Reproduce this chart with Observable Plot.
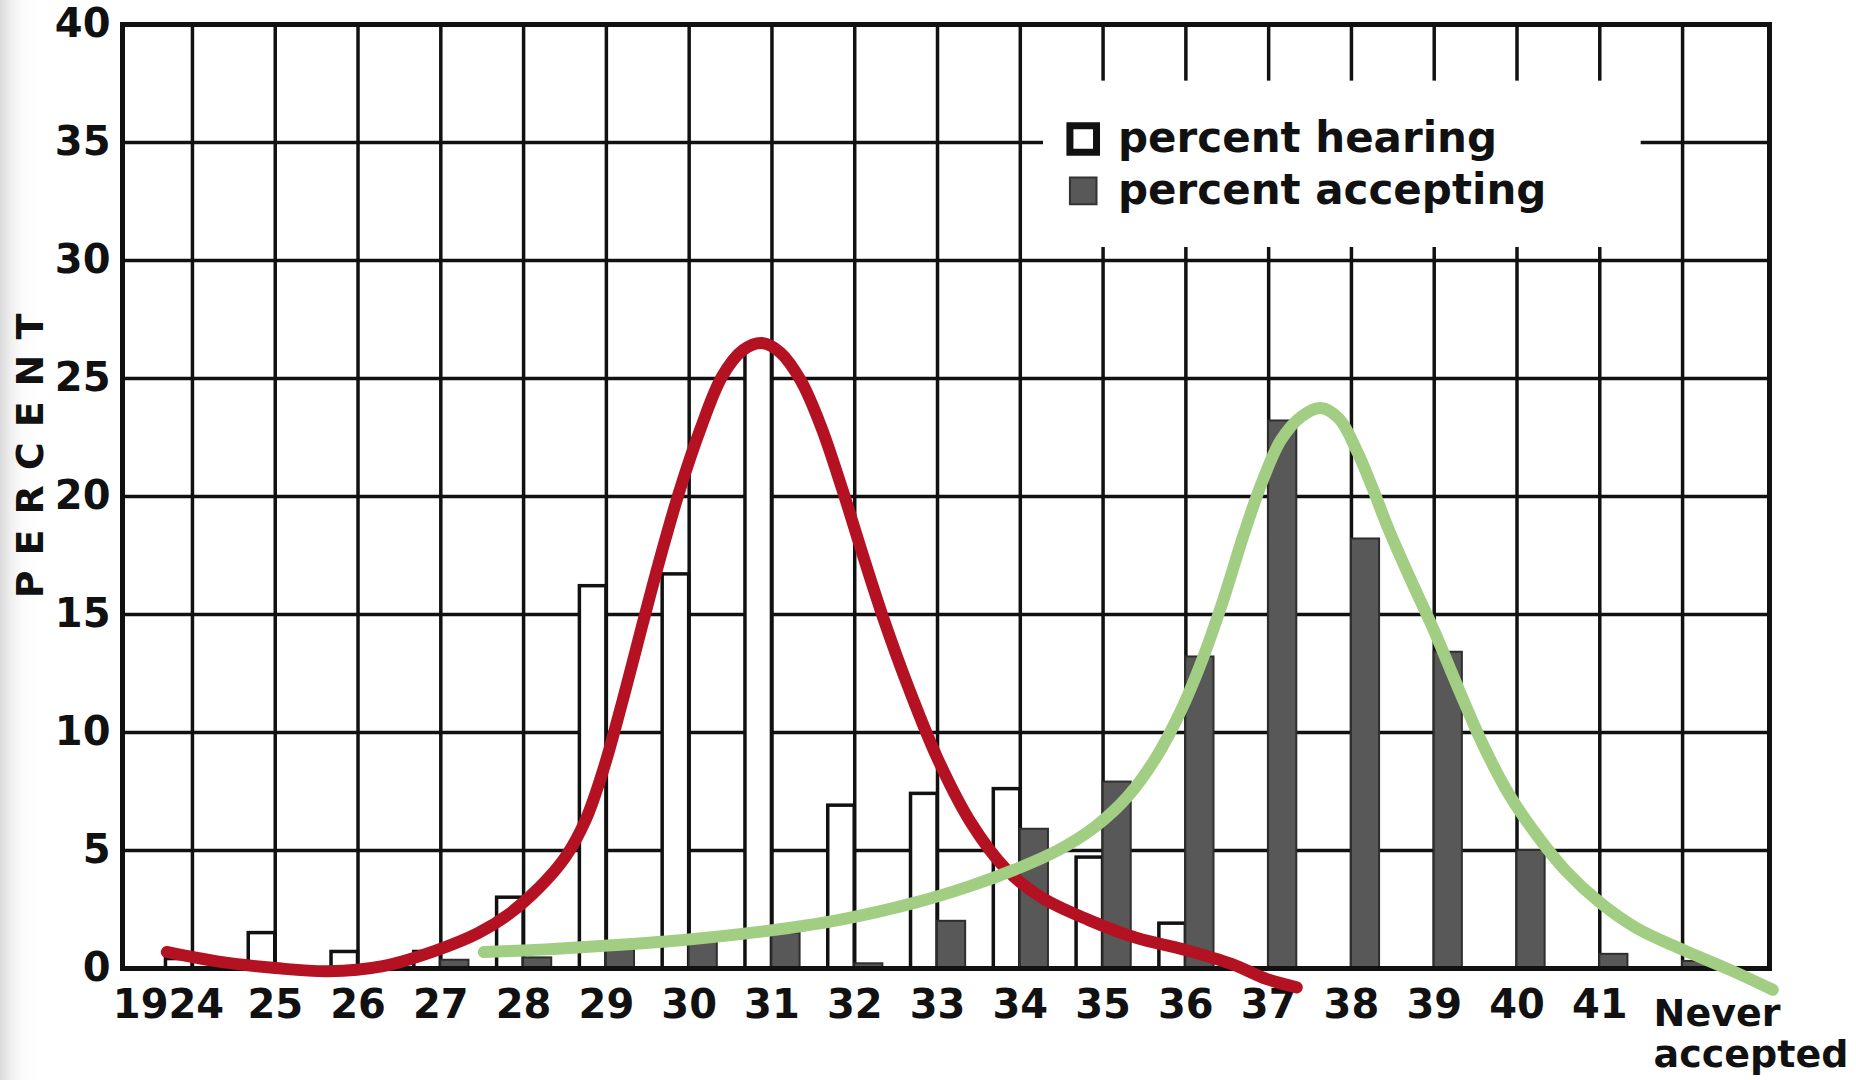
<!DOCTYPE html>
<html>
<head>
<meta charset="utf-8">
<script src="https://cdn.jsdelivr.net/npm/d3@7"></script>
<script src="https://cdn.jsdelivr.net/npm/@observablehq/plot@0.6"></script>
<style>
  html, body { margin: 0; padding: 0; }
  body { width: 1856px; height: 1080px; overflow: hidden; position: relative;
         background: linear-gradient(to right, #d9d9d9 0px, #eeeeee 10px, #fbfbfb 22px, #ffffff 40px); }
  #chart svg { display: block; }
  #ytitle { position: absolute; left: 30px; top: 456px; width: 0; height: 0; }
  #ytitle span { position: absolute; left: 0; top: 0; white-space: nowrap;
     font: bold 38px "DejaVu Sans"; letter-spacing: 15px; padding-left: 15px; color: #111;
     transform: translate(-50%, -50%) rotate(-90deg); }
</style>
</head>
<body>
<div id="chart"></div>
<div id="ytitle"><span></span></div>
<script>
// ---- data ----
const categories = ["1924", "25", "26", "27", "28", "29", "30", "31", "32", "33", "34", "35", "36", "37", "38", "39", "40", "41", "Never\naccepted"];
const hearing   = [0.4, 1.5, 0.7, 0.7, 3.0, 16.2, 16.7, 26.3, 6.9, 7.4, 7.6, 4.7, 1.9, 0, 0, 0, 0, 0, 0];
const accepting = [0, 0, 0, 0.35, 0.45, 1.0, 1.2, 1.5, 0.2, 2.0, 5.9, 7.9, 13.2, 23.2, 18.2, 13.4, 5.0, 0.6, 0.3];
const yTicks = [0, 5, 10, 15, 20, 25, 30, 35, 40];
const legendLabels = ["percent hearing", "percent accepting"];
const yTitle = "PERCENT";

// hand-drawn curves (x in category-index units, y in percent)
const redX = [-0.31, 0.3, 1.0, 1.64, 2.3, 2.93, 3.45, 3.82, 4.18, 4.5, 4.75, 4.97, 5.2, 5.43, 5.65, 5.88, 6.14, 6.4, 6.65, 6.88, 7.1, 7.35, 7.6, 7.85, 8.1, 8.35, 8.65, 9.0, 9.4, 9.83, 10.26, 10.83, 11.4, 11.98, 12.55, 12.98, 13.34];
const redY = [0.7, 0.3, 0.02, -0.12, 0.1, 0.75, 1.5, 2.3, 3.4, 4.7, 6.3, 8.5, 11.4, 14.5, 17.4, 20.2, 22.9, 25.1, 26.2, 26.5, 26.1, 24.9, 22.9, 20.3, 17.5, 14.8, 11.9, 8.9, 6.2, 4.2, 3.0, 2.05, 1.3, 0.8, 0.2, -0.45, -0.8];
const greenX = [3.52, 4.2, 4.93, 5.9, 6.84, 7.8, 8.74, 9.4, 9.94, 10.45, 10.9, 11.3, 11.65, 11.95, 12.2, 12.45, 12.7, 12.93, 13.15, 13.4, 13.63, 13.85, 14.07, 14.25, 14.45, 14.7, 15.0, 15.3, 15.6, 15.9, 16.25, 16.6, 17.0, 17.45, 18.0, 18.6, 19.09];
const greenY = [0.7, 0.8, 0.95, 1.2, 1.55, 2.05, 2.8, 3.5, 4.2, 5.0, 6.0, 7.3, 9.0, 11.0, 13.1, 15.6, 18.4, 20.7, 22.4, 23.4, 23.75, 23.3, 21.9, 20.4, 18.6, 16.6, 14.3, 11.8, 9.4, 7.4, 5.6, 4.1, 2.8, 1.7, 0.8, -0.1, -0.9];

// ---- tables built from the arrays ----
const table = categories.map((c, i) => ({i, c, hearing: hearing[i], accepting: accepting[i]}));
const red = redX.map((x, k) => ({x, y: redY[k]}));
const green = greenX.map((x, k) => ({x, y: greenY[k]}));
const legend = legendLabels.map((label, k) => ({label, k}));
const idx = categories.map((c, i) => i);

const FONT = "DejaVu Sans";
const ink = "#111";
const hearW = 0.32, accW = 0.34;       // bar widths in category units
const legendX = 10.76, legendTextX = 11.18;
const legendY = [35.15, 32.95];

const chart = Plot.plot({
  width: 1856,
  height: 1080,
  marginLeft: 122,
  marginRight: 87,
  marginTop: 24,
  marginBottom: 112,
  style: {fontFamily: FONT, background: "transparent", color: ink},
  x: {domain: [-0.845, 19.05], axis: null},
  y: {domain: [0, 40], axis: null},
  marks: [
    Plot.gridX(idx, {stroke: ink, strokeOpacity: 1, strokeWidth: 3.5}),
    Plot.gridY(yTicks.filter(t => t > 0 && t < 40), {stroke: ink, strokeOpacity: 1, strokeWidth: 3.5}),
    // legend background masking the grid
    Plot.rect([0], {x1: () => 10.28, x2: () => 17.5, y1: () => 30.55, y2: () => 37.6, fill: "white"}),
    // bars
    Plot.rectY(table.filter(d => d.hearing > 0), {x1: d => d.i - hearW, x2: d => d.i, y: "hearing", fill: "white", stroke: ink, strokeWidth: 3.5}),
    Plot.rectY(table.filter(d => d.accepting > 0), {x1: d => d.i, x2: d => d.i + accW, y: "accepting", fill: "#585858", stroke: "#2e2e2e", strokeWidth: 2}),
    Plot.frame({stroke: ink, strokeWidth: 5}),
    // y axis
    Plot.axisY(yTicks, {tickSize: 0, tickPadding: 12, fontSize: 40, fontWeight: "bold", label: null}),
    // x labels
    Plot.text(table.filter(d => d.i > 0 && d.i < 18), {x: "i", text: "c", frameAnchor: "bottom", lineAnchor: "top", dy: 21, fontSize: 40, fontWeight: "bold"}),
    Plot.text(table.filter(d => d.i === 0), {x: "i", text: "c", frameAnchor: "bottom", lineAnchor: "top", dy: 21, dx: -24, fontSize: 40, fontWeight: "bold"}),
    Plot.text(table.filter(d => d.i === 18), {x: "i", text: "c", frameAnchor: "bottom", lineAnchor: "top", textAnchor: "start", dy: 28, dx: -29, fontSize: 38, fontWeight: "bold", lineHeight: 1.08}),
    // legend
    Plot.dot(legend, {x: () => legendX, y: d => legendY[d.k], symbol: "square", r: 15,
      fill: d => d.k === 0 ? "white" : "#585858", stroke: d => d.k === 0 ? ink : "#333", strokeWidth: d => d.k === 0 ? 7 : 2}),
    Plot.text(legend, {x: () => legendTextX, y: d => legendY[d.k], text: "label", textAnchor: "start", fontSize: 42, fontWeight: "bold", ariaLabel: "legendtext"}),
    // curves
    Plot.line(red, {x: "x", y: "y", stroke: "#b41222", strokeWidth: 12, curve: "catmull-rom", strokeLinecap: "round", strokeLinejoin: "round"}),
    Plot.line(green, {x: "x", y: "y", stroke: "#a2ce83", strokeWidth: 12, curve: "catmull-rom", strokeLinecap: "round", strokeLinejoin: "round"})
  ]
});

d3.select(chart).selectAll("g[aria-label='legendtext'] text").attr("letter-spacing", 2);
document.getElementById("chart").appendChild(chart);
document.querySelector("#ytitle span").textContent = yTitle;
</script>
</body>
</html>
